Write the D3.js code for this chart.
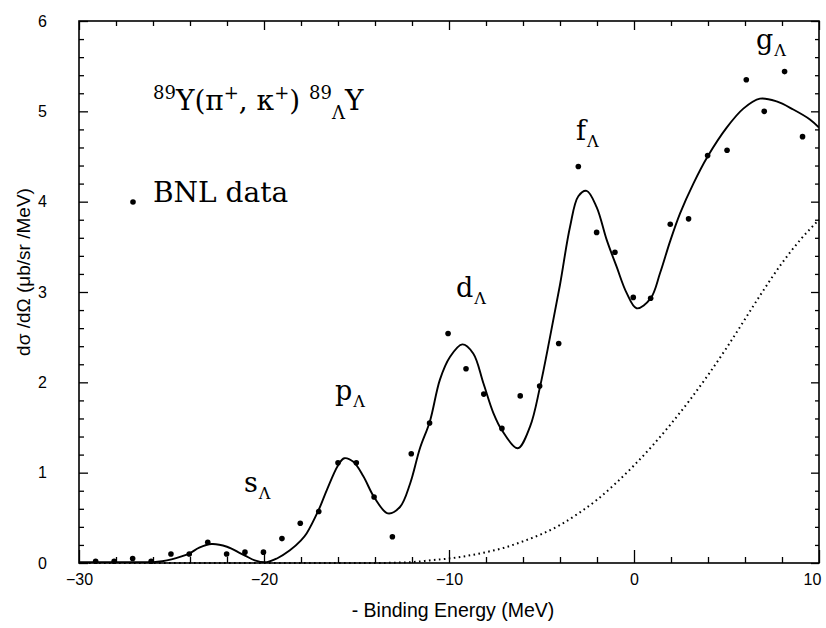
<!DOCTYPE html>
<html><head><meta charset="utf-8">
<script src="https://cdn.jsdelivr.net/npm/d3@7"></script>
<style>
html,body{margin:0;padding:0;background:#fff;}
svg{display:block;}
</style></head>
<body>
<svg id="chart" width="826" height="628"></svg>
<script>
// ---- data ----
const xTickMajor = [-30, -20, -10, 0, 10];
const xTickLabels = ["\u221230", "\u221220", "\u221210", "0", "10"];
const xTickMinor = [-28,-26,-24,-22,-18,-16,-14,-12,-8,-6,-4,-2,2,4,6,8];
const yTickMajor = [0, 1, 2, 3, 4, 5, 6];
const yTickMinor = [0.2,0.4,0.6,0.8,1.2,1.4,1.6,1.8,2.2,2.4,2.6,2.8,3.2,3.4,3.6,3.8,4.2,4.4,4.6,4.8,5.2,5.4,5.6,5.8];

// BNL data points
const bnlX = [-29.1,-28.1,-27.1,-26.1,-25.03,-24.04,-23.04,-22.02,-21.03,-20.03,-19.03,-18.04,-17.04,-16.0,-15.01,-14.05,-13.06,-12.04,-11.05,-10.05,-9.08,-8.12,-7.14,-6.15,-5.1,-4.07,-3.01,-2.02,-1.03,-0.04,0.9,1.96,2.95,3.98,5.03,6.07,7.04,8.14,9.11];
const bnlY = [0.02,0.02,0.05,0.02,0.10,0.10,0.23,0.10,0.12,0.12,0.27,0.44,0.57,1.11,1.11,0.73,0.29,1.21,1.55,2.54,2.15,1.87,1.49,1.85,1.96,2.43,4.39,3.66,3.44,2.94,2.93,3.75,3.81,4.51,4.57,5.35,5.00,5.44,4.72];

// solid theory curve
const fitX = [-30,-28,-26,-25.5,-25,-24.5,-24,-23.5,-22.83,-22,-21.3,-21,-20.5,-19.85,-19.3,-18.6,-18,-17.69,-17.04,-16.6,-16.0,-15.66,-15.17,-14.63,-14.05,-13.31,-12.65,-12.1,-11.57,-11.03,-10.49,-9.95,-9.28,-8.69,-8.14,-7.6,-7.14,-6.29,-5.62,-5.08,-4.54,-4.0,-3.46,-3.01,-2.56,-2.02,-1.48,-0.94,-0.4,0.14,0.9,1.41,1.95,2.49,3.21,3.98,5.01,5.91,6.81,7.71,8.61,9.51,10];
const fitY = [0.01,0.01,0.01,0.02,0.04,0.07,0.11,0.17,0.21,0.18,0.11,0.08,0.03,0.01,0.05,0.14,0.25,0.33,0.59,0.81,1.08,1.16,1.12,0.96,0.73,0.55,0.62,0.88,1.27,1.57,2.03,2.28,2.42,2.32,1.99,1.66,1.47,1.27,1.51,1.95,2.5,3.08,3.72,4.06,4.12,3.94,3.58,3.28,2.99,2.82,2.93,3.21,3.56,3.87,4.2,4.5,4.82,5.03,5.14,5.11,5.02,4.91,4.82];

// dotted background curve
const bgX = [-30,-20,-14,-12,-11,-10,-9,-8,-7,-6,-5,-4,-3,-2,-1,0,1,2,3,4,5,6,7,8,9,10];
const bgY = [0,0,0,0.01,0.03,0.05,0.08,0.12,0.17,0.24,0.32,0.42,0.55,0.7,0.88,1.08,1.3,1.54,1.8,2.08,2.38,2.7,3.02,3.32,3.58,3.8];

// ---- layout ----
const L = 79, R = 819, T = 21, B = 563;
const svg = d3.select("#chart");
const x = d3.scaleLinear().domain([-30, 10]).range([L, R]);
const y = d3.scaleLinear().domain([0, 6]).range([B, T]);
const sans = "'Liberation Sans', Arial, sans-serif";
const serif = "'DejaVu Serif', serif";

function styleAxis(g){
  g.select(".domain").remove();
  g.selectAll("line").attr("stroke","#000").attr("stroke-width",1.3);
  g.selectAll("text").attr("font-family", sans).attr("font-size", 16).attr("fill","#000");
}
// bottom
svg.append("g").attr("transform",`translate(0,${B})`)
  .call(d3.axisBottom(x).tickValues(xTickMinor).tickSize(-6).tickFormat("")).call(styleAxis);
const bx = svg.append("g").attr("transform",`translate(0,${B})`)
  .call(d3.axisBottom(x).tickValues(xTickMajor).tickSize(-13).tickPadding(11)
    .tickFormat((d,i)=>xTickLabels[i])).call(styleAxis);
bx.selectAll(".tick text").filter(d=>d===10).attr("dx",-7);
// top
svg.append("g").attr("transform",`translate(0,${T})`)
  .call(d3.axisTop(x).tickValues(xTickMinor).tickSize(-5).tickFormat("")).call(styleAxis);
svg.append("g").attr("transform",`translate(0,${T})`)
  .call(d3.axisTop(x).tickValues(xTickMajor).tickSize(-9).tickFormat("")).call(styleAxis);
// left
svg.append("g").attr("transform",`translate(${L},0)`)
  .call(d3.axisLeft(y).tickValues(yTickMinor).tickSize(-5).tickFormat("")).call(styleAxis);
svg.append("g").attr("transform",`translate(${L},0)`)
  .call(d3.axisLeft(y).tickValues(yTickMajor).tickSize(-9).tickPadding(32).tickFormat(d3.format("d"))).call(styleAxis);
// right
svg.append("g").attr("transform",`translate(${R},0)`)
  .call(d3.axisRight(y).tickValues(yTickMinor).tickSize(-4).tickFormat("")).call(styleAxis);
svg.append("g").attr("transform",`translate(${R},0)`)
  .call(d3.axisRight(y).tickValues(yTickMajor).tickSize(-8).tickFormat("")).call(styleAxis);

// frame
svg.append("rect").attr("x",L).attr("y",T).attr("width",R-L).attr("height",B-T)
  .attr("fill","none").attr("stroke","#000").attr("stroke-width",1.6);

// axis titles
svg.append("text").attr("x", 453).attr("y", 617).attr("text-anchor","middle")
  .attr("font-family", sans).attr("font-size", 19.5).text("- Binding Energy (MeV)");
svg.append("text").attr("transform","translate(30,272) rotate(-90)").attr("text-anchor","middle")
  .attr("font-family", sans).attr("font-size", 19).text("d\u03c3 /d\u03a9 (\u03bcb/sr /MeV)");

// dotted background
const clip = svg.append("clipPath").attr("id","clp").append("rect")
  .attr("x",L).attr("y",T).attr("width",R-L).attr("height",B-T);
svg.append("path")
  .datum(bgX.map((d,i)=>[d,bgY[i]]))
  .attr("d", d3.line().x(d=>x(d[0])).y(d=>y(d[1])).curve(d3.curveMonotoneX))
  .attr("fill","none").attr("stroke","#000").attr("stroke-width",2)
  .attr("stroke-dasharray","1.6,3.4");

// solid fit
svg.append("path")
  .datum(fitX.map((d,i)=>[d,fitY[i]]))
  .attr("clip-path","url(#clp)")
  .attr("d", d3.line().x(d=>x(d[0])).y(d=>y(d[1])).curve(d3.curveCatmullRom.alpha(0.5)))
  .attr("fill","none").attr("stroke","#000").attr("stroke-width",1.9);

// data points
svg.append("g").selectAll("circle")
  .data(bnlX.map((d,i)=>[d,bnlY[i]]))
  .join("circle").attr("cx",d=>x(d[0])).attr("cy",d=>y(d[1])).attr("r",2.8).attr("fill","#000");

// labels
function lab(xp, yp, main, size){
  const t = svg.append("text").attr("x",xp).attr("y",yp).attr("font-family",serif).attr("font-size",size);
  t.append("tspan").text(main);
  t.append("tspan").attr("dx",1).attr("dy",7).attr("font-size",size*0.6).text("\u039b");
}
lab(244, 492, "s", 27);
lab(335, 400, "p", 27);
lab(456, 297, "d", 27);
lab(576, 140, "f", 27);
lab(756, 49, "g", 27);

// formula
const f = svg.append("text").attr("x",153).attr("y",110).attr("font-family",serif).attr("font-size",28);
f.append("tspan").attr("dy",-11).attr("font-size",18).text("89");
f.append("tspan").attr("dy",11).text("Y(\u03c0");
f.append("tspan").attr("dy",-11).attr("font-size",18).text("+");
f.append("tspan").attr("dy",11).text(", \u03ba");
f.append("tspan").attr("dy",-11).attr("font-size",18).text("+");
f.append("tspan").attr("dy",11).text(") ");
f.append("tspan").attr("dy",-11).attr("font-size",18).text("89");
f.append("tspan").attr("dy",20).attr("font-size",18).text("\u039b");
f.append("tspan").attr("dy",-9).text("Y");

// legend
svg.append("circle").attr("cx",133).attr("cy",202).attr("r",2.8).attr("fill","#000");
svg.append("text").attr("x",153).attr("y",202).attr("font-family",serif).attr("font-size",28).text("BNL data");
</script>
</body></html>
